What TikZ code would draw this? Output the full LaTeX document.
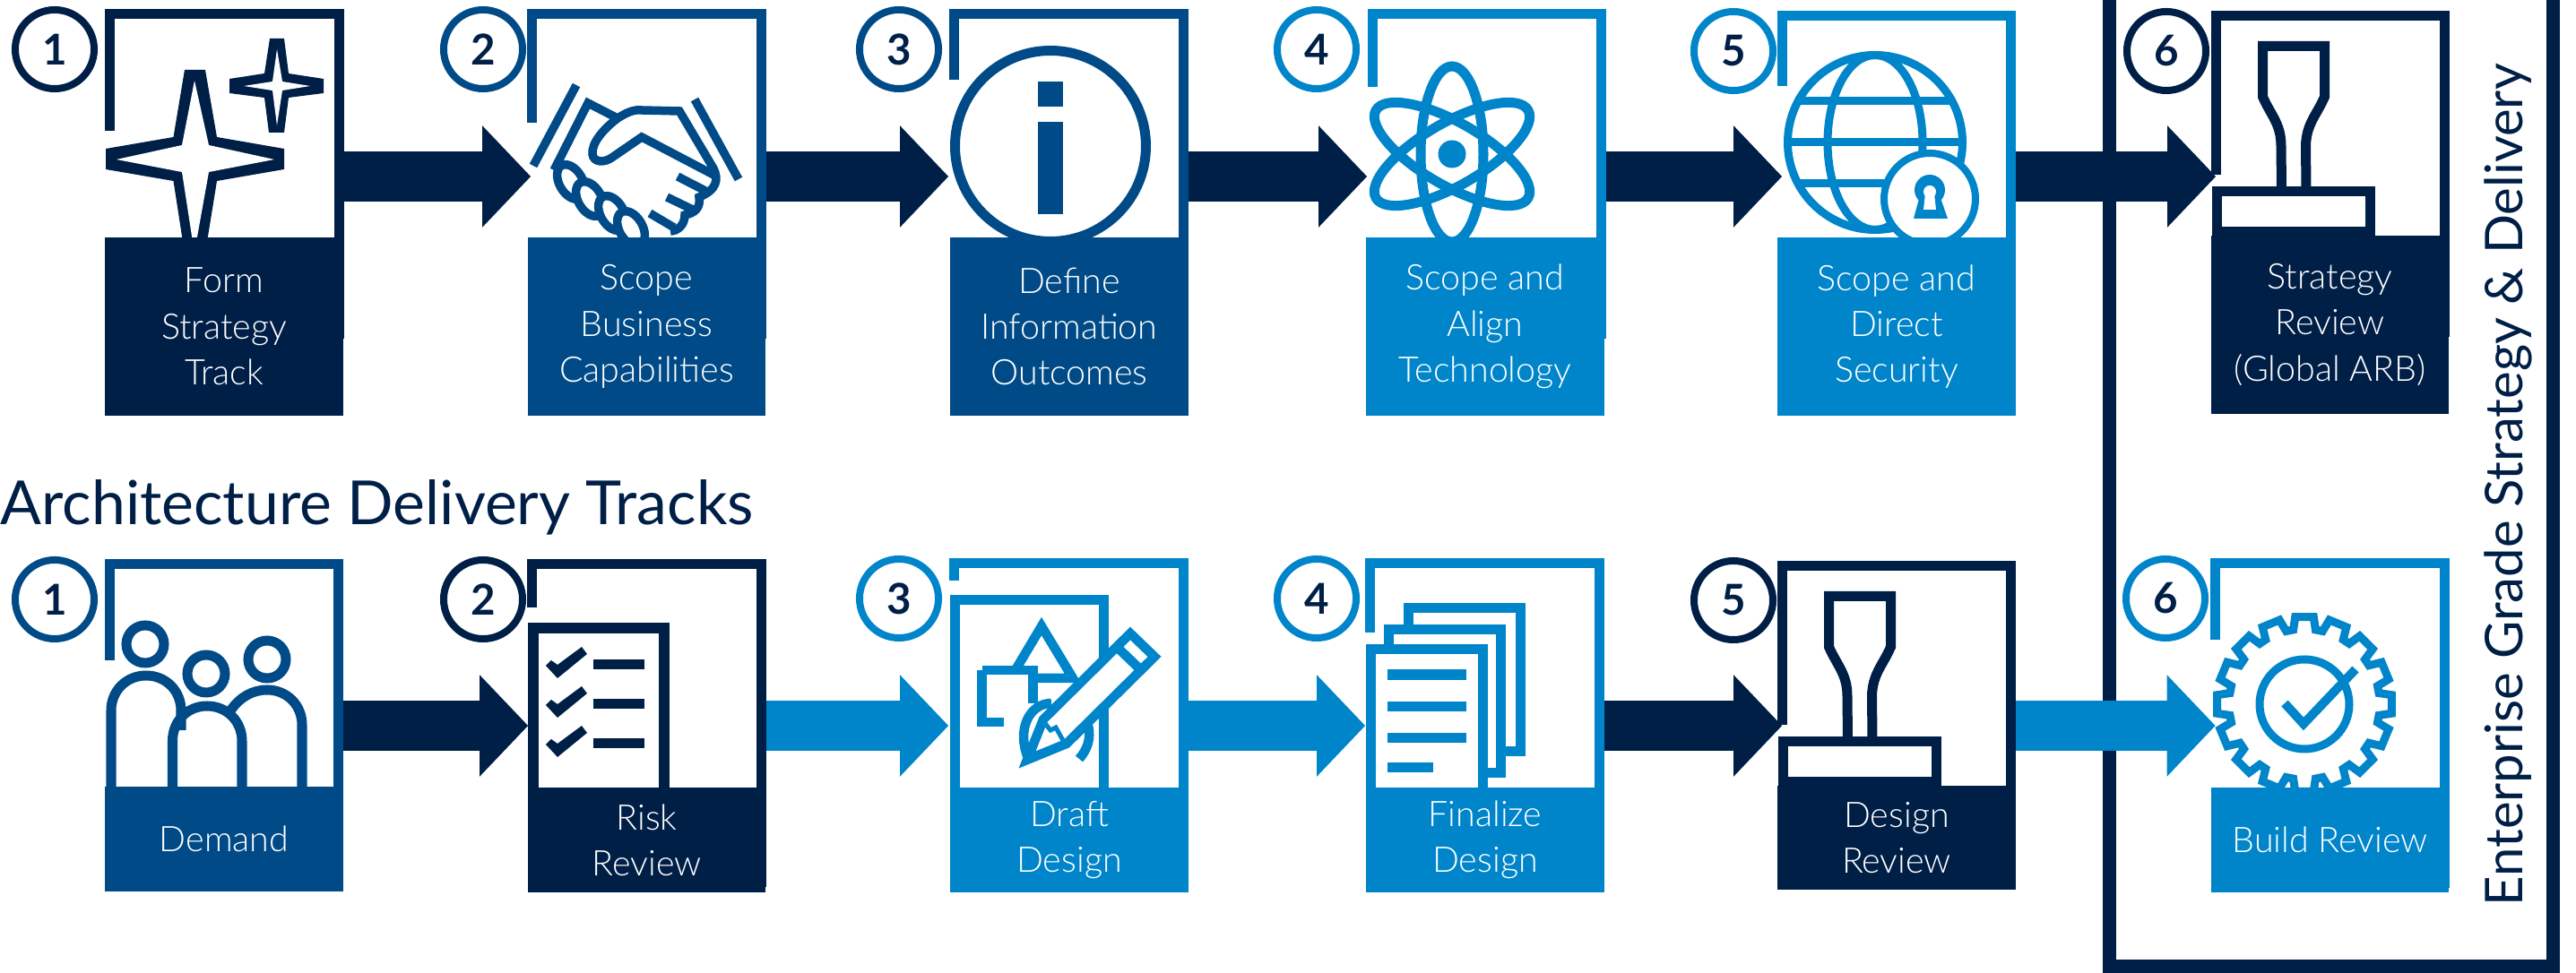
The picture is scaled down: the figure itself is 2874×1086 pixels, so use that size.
\documentclass[tikz,border=0pt]{standalone}
\usepackage{fontspec}
\usepackage{tikz}
\usetikzlibrary{arrows.meta}
\setmainfont{Lato}
\newfontfamily\lightfont{Lato Light}
\definecolor{trackdark}{HTML}{001F47}
\definecolor{trackmid}{HTML}{004B87}
\definecolor{tracklight}{HTML}{0085CA}
\tikzset{
  framebox/.style={inner sep=0pt, minimum width=25.4mm},
  frameline/.style={line width=1.1mm},
  iconline/.style={line width=1.0mm, line join=miter},
  numbercircle/.style={circle, line width=0.8mm, inner sep=0pt, minimum size=8.8mm, text=trackdark, font=\fontsize{13.5}{16}\selectfont\bfseries},
  steplabel/.style={inner sep=0pt, minimum width=26.5mm, text=white, align=center, font=\lightfont\fontsize{11.2}{14.6}\selectfont}
}
\newcommand{\stepframe}[5] {\node at (#1) (#2) [framebox, minimum height=#3] {}; \draw [frameline, #5] (#2.west |- 0,#4) -- (#2.north west) -- (#2.north east) -- (#2.south east);}
\newcommand{\stepnumber}[4] {\node at (#1) (#2) [numbercircle, draw=#4] {#3};}
\newcommand{\steplabelnode}[5] {\node at (#1) (#2) [steplabel, fill=#3, minimum height=#4] {#5};}
\newcommand{\trackarrow}[4] {\draw [-{Triangle[length=5.4mm,width=11mm]}, line width=5.6mm, #3, shorten <=0.55mm, shorten >=#4] (#1.east) -- (#2.west);}
\newcommand{\stampicon}[2] {\begin{scope}[shift={(#1)}]
  \draw [iconline, #2, line width=1.1mm] (77.5,197) -- (77,150) .. controls (77,125) and (65,115) .. (56.5,95) -- (56.5,38.5) -- (125.5,38.5) -- (125.5,95) .. controls (117,115) and (105,125) .. (104.5,150) -- (105,197);
  \fill [#2] (0,195) rectangle (182,252);
  \fill [white] (11,206) rectangle (171,240);
\end{scope}}
\begin{document}
\begin{tikzpicture}[x=0.01cm, y=-0.01cm]
\useasboundingbox (0,0) rectangle (2874,1086);

\stepframe {250.5,197} {fa1} {36.1mm} {146} {trackdark};
\stepframe {721.5,197} {fa2} {36.1mm} {137} {trackmid};
\stepframe {1192.5,197} {fa3} {36.1mm} {89} {trackmid};
\stepframe {1659,197} {fa4} {36.1mm} {97} {tracklight};
\stepframe {2116,197} {fa5} {35.7mm} {96} {tracklight};
\stepframe {2600,197} {fa6} {35.7mm} {195} {trackdark};
\stepframe {250,810} {fb1} {35.9mm} {737} {trackmid};
\stepframe {721.5,810} {fb2} {35.9mm} {678} {trackdark};
\stepframe {1192.5,810} {fb3} {36.1mm} {648} {tracklight};
\stepframe {1656.5,810} {fb4} {36.1mm} {706} {tracklight};
\stepframe {2116,810} {fb5} {35.5mm} {809} {trackdark};
\stepframe {2599.5,810} {fb6} {36.1mm} {714} {tracklight};

% stars
\fill [trackdark] (206,78) -- (229,78) -- (242,153) -- (317,166) -- (317,189) -- (242,202) -- (231,270) -- (204,270) -- (193.5,202) -- (118,189) -- (118,166) -- (193.5,153) -- cycle;
\fill [white] (217,90) -- (233,162) -- (306,178) -- (233,192) -- (219,270) -- (215,270) -- (203,192) -- (130,178) -- (203,162) -- cycle;
\fill [trackdark] (301,43) -- (317,43) -- (322,82) -- (361,88) -- (361,104) -- (322,109) -- (317,148) -- (300,148) -- (295,109) -- (256,104) -- (256,88) -- (295,82) -- cycle;
\fill [white] (309,55) -- (315,91) -- (346,96) -- (315,101) -- (309,140) -- (304,101) -- (272,96) -- (304,91) -- cycle;

% handshake
\begin{scope}[trackmid, line width=0.95mm]
\draw (643,95) -- (595,185);
\draw (775,111) -- (824,200);
\draw (618,190) -- (656,115) -- (689,132) .. controls (700,125) and (708,122) .. (716,123) -- (758,124) -- (796,188) .. controls (802,200) and (800,212) .. (780,220) .. controls (782,232) and (775,238) .. (764,240) .. controls (764,252) and (755,258) .. (748,258);
\draw (689,132) .. controls (672,145) and (660,160) .. (661,172) .. controls (662,182) and (675,182) .. (684,175) -- (716,153) -- (796,195);
\draw (756,197) -- (787,213);
\draw (744,220) -- (775,235);
\draw (725,238) -- (752,254);
\draw [fill=white] (637,203) ellipse [x radius=13, y radius=21, rotate=30];
\draw [fill=white] (658,222) ellipse [x radius=13, y radius=21, rotate=30];
\draw [fill=white] (683,238) ellipse [x radius=13, y radius=21, rotate=30];
\draw [fill=white] (704,255) ellipse [x radius=13, y radius=21, rotate=30];
\end{scope}

% information
\draw [iconline, trackmid, line width=1.1mm] (1172,163) circle [radius=106.5];
\fill [trackmid] (1158,91) rectangle (1186,119);
\fill [trackmid] (1158,136) rectangle (1186,239);

% atom
\begin{scope}[iconline, tracklight, line width=1.1mm]
\draw (1620,172) ellipse [x radius=35, y radius=98];
\draw (1620,172) ellipse [x radius=35, y radius=98, rotate=60];
\draw (1620,172) ellipse [x radius=35, y radius=98, rotate=-60];
\fill (1620,172) circle [radius=15.5];
\end{scope}

% globe
\begin{scope}[tracklight, line width=0.9mm]
\draw (2092,159) circle [radius=97.5];
\draw (2092,159) ellipse [x radius=53, y radius=97.5];
\draw (2003,113) -- (2181,113);
\draw (1995,159) -- (2189,159);
\draw (2003,205) -- (2181,205);
\draw [fill=white, line width=0.8mm] (2153,222) circle [radius=51];
\fill (2153,212) circle [radius=17];
\fill (2142,218) -- (2164,218) -- (2173,244) -- (2135,244) -- cycle;
\fill [white] (2153,214) circle [radius=7];
\fill [white] (2148,216) -- (2158,216) -- (2160,234) -- (2146,234) -- cycle;
\end{scope}

\stampicon {2468,13} {trackdark};
\stampicon {1984,627} {trackdark};

% people
\begin{scope}[trackmid, line width=1.1mm]
\draw (162,719) circle [radius=21];
\draw (230,752) circle [radius=21];
\draw (298,736) circle [radius=21];
\draw (337,882) -- (337,809) .. controls (337,787) and (320,770) .. (298,770) .. controls (282,770) and (268,778) .. (258,792);
\draw (124,882) -- (124,793) .. controls (124,771) and (141,754) .. (163,754) .. controls (185,754) and (202,771) .. (202,793) -- (202,815);
\draw (192.5,882) -- (192.5,827) .. controls (192.5,805) and (209,788) .. (231,788) .. controls (253,788) and (270,805) .. (270,827) -- (270,882);
\end{scope}

% checklist
\draw [trackdark, line width=1.2mm] (595,882) -- (595,701) -- (740.5,701) -- (740.5,882);
\foreach \dy in {0,44,88} {
  \begin{scope}[yshift=-\dy*0.01cm]
  \fill [trackdark] (609,743) -- (622,757) -- (655,730) -- (649,722) -- (622,742) -- (615,737) -- cycle;
  \fill [trackdark] (662,736) rectangle (719,747);
  \end{scope}
}

% drafting
\begin{scope}[tracklight, line width=1.05mm]
\draw (1065.5,882) -- (1065.5,669.5) -- (1231.5,669.5) -- (1231.5,882);
\draw (1095.5,748) -- (1152.5,748) -- (1152.5,785);
\draw (1120,806) -- (1095.5,806) -- (1095.5,748);
\draw (1134,746) -- (1162,699) -- (1197,757) -- (1158,757);
\draw (1173,785) .. controls (1148,785) and (1134,815) .. (1147,846);
\draw (1214,810) .. controls (1218,825) and (1212,838) .. (1204,847);
\draw [fill=white, line join=miter] (1261,707) -- (1288,733) -- (1190,830) -- (1146,848) -- (1164,803) -- cycle;
\draw (1246,722) -- (1273,748);
\draw [line width=0.5mm] (1164,805) -- (1172,815) -- (1178,812) -- (1188,830);
\end{scope}

% papers
\begin{scope}[tracklight, line width=1.1mm]
\draw (1571.5,700) -- (1571.5,678.5) -- (1696.5,678.5) -- (1696.5,838.5) -- (1675,838.5);
\draw (1549.5,722) -- (1549.5,702.5) -- (1674.5,702.5) -- (1674.5,862.5) -- (1655,862.5);
\draw (1529.5,882) -- (1529.5,724.5) -- (1654.5,724.5) -- (1654.5,882);
\fill (1548,747) rectangle (1636,759);
\fill (1548,783) rectangle (1636,794);
\fill (1548,818) rectangle (1636,829);
\fill (1548,851) rectangle (1599,862);
\end{scope}

% gear
\begin{scope}[shift={(2571,786)}, tracklight, line width=0.9mm]
\draw (-8.5:84) \foreach \a in {0,22.5,...,337.5} { -- ({\a-8.5}:84) -- ({\a-6}:98) -- ({\a+6}:98) -- ({\a+8.5}:84) } -- cycle;
\draw (0,0) circle [radius=50];
\draw [line width=1mm] (-22,-1) -- (-1,22) -- (57,-39);
\end{scope}

\steplabelnode {250,364.5} {la1} {trackdark} {19.9mm} {Form\\Strategy\\Track};
\steplabelnode {721.5,364.5} {la2} {trackmid} {19.9mm} {Scope\\Business\\Capabilities};
\steplabelnode {1193,364.5} {la3} {trackmid} {19.9mm} {Define\\Information\\Outcomes};
\steplabelnode {1657,364.5} {la4} {tracklight} {19.9mm} {Scope and\\Align\\Technology};
\steplabelnode {2116,364.5} {la5} {tracklight} {19.9mm} {Scope and\\Direct\\Security};
\steplabelnode {2599.5,362.5} {la6} {trackdark} {19.9mm} {Strategy\\Review\\(Global ARB)};
\steplabelnode {250,936.5} {lb1} {trackmid} {11.7mm} {Demand};
\steplabelnode {721.5,937.5} {lb2} {trackdark} {11.7mm} {Risk\\Review};
\steplabelnode {1193,937.5} {lb3} {tracklight} {11.7mm} {Draft\\Design};
\steplabelnode {1657,937.5} {lb4} {tracklight} {11.7mm} {Finalize\\Design};
\steplabelnode {2116,935} {lb5} {trackdark} {11.6mm} {Design\\Review};
\steplabelnode {2599.5,937.5} {lb6} {tracklight} {11.7mm} {Build Review};

\stepnumber {61,55} {na1} {1} {trackdark};
\stepnumber {539,55} {na2} {2} {trackmid};
\stepnumber {1003,55} {na3} {3} {trackmid};
\stepnumber {1469,55} {na4} {4} {tracklight};
\stepnumber {1934,57} {na5} {5} {tracklight};
\stepnumber {2417,57} {na6} {6} {trackdark};
\stepnumber {61,669} {nb1} {1} {trackmid};
\stepnumber {539,669} {nb2} {2} {trackdark};
\stepnumber {1003,668} {nb3} {3} {tracklight};
\stepnumber {1469,668} {nb4} {4} {tracklight};
\stepnumber {1934,670} {nb5} {5} {trackdark};
\stepnumber {2416,668} {nb6} {6} {tracklight};

\node at (0,586) (title) [anchor=base west, inner sep=0pt, text=trackdark, font=\fontsize{19.3}{23}\selectfont] {Architecture Delivery Tracks};
\node at (2814,1012) (enterprise) [anchor=base west, rotate=90, inner sep=0pt, text=trackdark, font=\fontsize{16.5}{20}\selectfont] {Enterprise Grade Strategy \& Delivery};
\coordinate (framenw) at (2353,-10);
\coordinate (framesw) at (2353,1079);
\coordinate (framese) at (2848,1079);
\coordinate (framene) at (2848,-10);
\draw [trackdark, line width=1.5mm] (framenw) -- (framesw) -- (framese) -- (framene);

\trackarrow {fa1} {fa2} {trackdark} {0.15mm};
\trackarrow {fa2} {fa3} {trackdark} {0.65mm};
\trackarrow {fa3} {fa4} {trackdark} {0.6mm};
\trackarrow {fa4} {fa5} {trackdark} {0mm};
\trackarrow {fa5} {fa6} {trackdark} {0mm};
\trackarrow {fb1} {fb2} {trackdark} {0.45mm};
\trackarrow {fb2} {fb3} {tracklight} {0.65mm};
\trackarrow {fb3} {fb4} {tracklight} {0.55mm};
\trackarrow {fb4} {fb5} {trackdark} {0mm};
\trackarrow {fb5} {fb6} {tracklight} {0mm};

\end{tikzpicture}
\end{document}
